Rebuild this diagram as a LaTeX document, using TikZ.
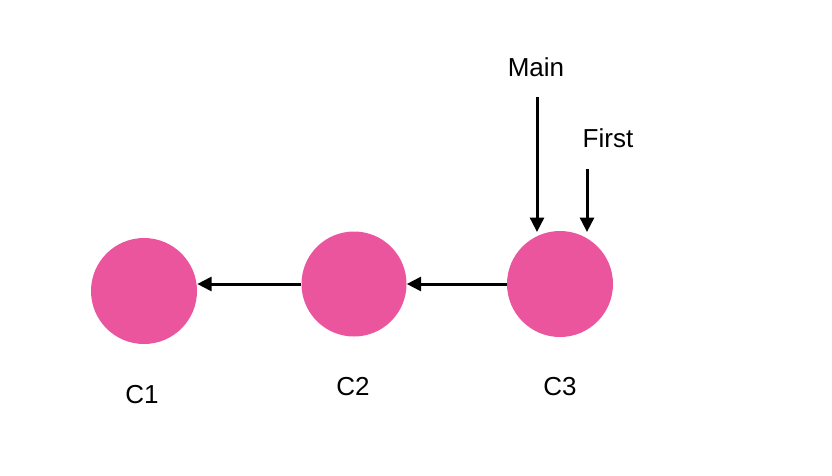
\documentclass[tikz,border=0pt]{standalone}
\usepackage{fontspec}
\setmainfont{Liberation Sans}
\usetikzlibrary{arrows.meta}
\definecolor{commitpink}{HTML}{EB559E}
\begin{document}
\begin{tikzpicture}[x=1pt,y=-1pt,
  commit/.style={circle,fill=commitpink,draw=none,inner sep=0pt},
  lbl/.style={anchor=base,inner sep=0pt,font=\fontsize{26}{30}\selectfont},
  conn/.style={line width=3pt,-{Triangle[length=14.5pt,width=14pt]}}]
\useasboundingbox (0,0) rectangle (832,476);
\node[commit,minimum size=106pt] (c1) at (144,291) {};
\node[commit,minimum size=105pt] (c2) at (354,284) {};
\node[commit,minimum size=106pt] (c3) at (560,284) {};
\node[lbl] (l1) at (142,403) {C1};
\node[lbl] (l2) at (353,395) {C2};
\node[lbl] (l3) at (560,395) {C3};
\node[lbl] (main) at (536,76.5) {Main};
\node[lbl] (first) at (608,147.5) {First};
\coordinate (ms) at (537,97);
\coordinate (me) at (537,232);
\coordinate (fs) at (587,169);
\coordinate (fe) at (587,232);
\draw[conn] (c2.west) -- (c2.west -| c1.east);
\draw[conn] (c3.west) -- (c2.east);
\draw[conn] (ms) -- (me);
\draw[conn] (fs) -- (fe);
\end{tikzpicture}
\end{document}
